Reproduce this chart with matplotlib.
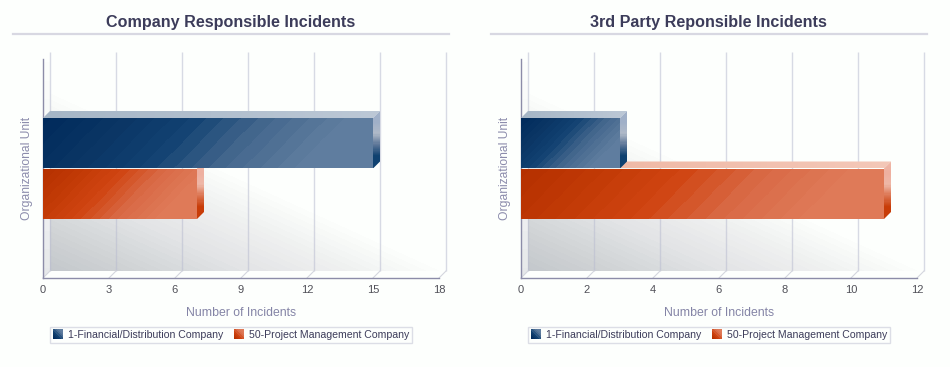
import numpy as np
import matplotlib
matplotlib.use('Agg')
import matplotlib.pyplot as plt
from matplotlib.patches import Polygon, Patch
from matplotlib.lines import Line2D
from matplotlib.image import BboxImage
from matplotlib.transforms import Bbox, TransformedBbox
from matplotlib.legend_handler import HandlerBase
from matplotlib.colors import to_rgb

plt.rcParams['font.family'] = ['Liberation Sans', 'DejaVu Sans']

companies = ['1-Financial/Distribution Company', '50-Project Management Company']
titles = ['Company Responsible Incidents', '3rd Party Reponsible Incidents']
company_incidents = [15, 7]
third_party_incidents = [3, 11]
company_ticks = [0, 3, 6, 9, 12, 15, 18]
third_party_ticks = [0, 2, 4, 6, 8, 10, 12]

W, H = 950, 367
BG = '#fdfffd'
DEPTH = 7

front = [['#002a5c', '#0a3564', '#124272', '#45688e', '#5f7d9f', '#5f7d9f'],
         ['#b53000', '#c23a06', '#d04512', '#d96a46', '#df7a58', '#df7a58']]
top_face = [['#a6b6c6', '#bcc8d6'], ['#eeb4a0', '#f4c8b8']]
side_face = [['#a0b0c8', '#a0b0c8', '#b0bac8', '#5c7698', '#0f4170', '#0f4170'],
             ['#f0b8a8', '#eeb0a0', '#eeb8a8', '#dc7450', '#c83c08', '#c83c08']]
wall = ['#c4c8cc', '#d2d5d7', '#e3e4e6', '#eff0f0', BG]


def ramp(t, stops):
    pos = np.linspace(0, 1, len(stops))
    rgb = np.array([to_rgb(s) for s in stops])
    return np.dstack([np.interp(t, pos, rgb[:, i]) for i in range(3)])


def diagonal(w, h, stops, steps=22):
    # lighter towards the lower right, with the visible banding of the original
    x, y = np.meshgrid(np.linspace(0, 1, w), np.linspace(0, 1, h))
    t = (x * w + (1 - y) * h) / (w + h)
    t = np.round(t * steps) / steps
    return ramp(t, stops)


def place(ax, img, extent, clip=None, z=2):
    im = ax.imshow(img, extent=extent, origin='lower', aspect='auto', zorder=z,
                   interpolation='nearest')
    im.set_clip_box(None)
    if clip is None:
        im.set_clip_on(False)
    else:
        p = Polygon(clip, closed=True, fill=False, edgecolor='none', zorder=0)
        ax.add_patch(p)
        p.set_clip_on(False)
        im.set_clip_path(p)
    return im


class GradientHandler(HandlerBase):
    def __init__(self, stops):
        super().__init__()
        self.stops = stops

    def create_artists(self, legend, orig, xd, yd, width, height, fontsize, trans):
        side = 7.2
        box = TransformedBbox(Bbox([[-xd, -yd - 0.9], [-xd + side, -yd - 0.9 + side]]), trans)
        im = BboxImage(box, interpolation='nearest')
        im.set_data(diagonal(10, 10, self.stops, steps=8))
        return [im]


def draw_chart(fig, left, title, values, ticks):
    xmax = ticks[-1]
    ax = fig.add_axes([left / W, 1 - 278 / H, 396 / W, 219 / H])
    ax.set_facecolor('none')
    dx = DEPTH * xmax / 396
    dy = DEPTH / 219
    ylo, yhi = -0.5, 0.5

    # back wall, fading along the diagonal
    x, y = np.meshgrid(np.linspace(0, 1, 396), np.linspace(0, 1, 212))
    t = np.clip(x + y / 0.853, 0, 1)
    t = np.round(t * 30) / 30
    place(ax, ramp(t, wall), [dx, xmax + dx, ylo + dy, yhi], z=1)

    # left wall
    g = np.linspace(0, 1, 219).reshape(-1, 1)
    place(ax, ramp(np.round(g * 12) / 12, ['#e6e8ea', '#f4f5f6', BG]), [0, dx, ylo, yhi + dy],
          clip=[(0, ylo), (dx, ylo + dy), (dx, yhi + dy), (0, yhi)], z=1)

    # grid on the wall and on the floor
    ax.vlines([v + dx for v in ticks], ylo + dy, yhi + dy, color='#b9bcd0', alpha=0.55, lw=1,
              zorder=1.5, clip_on=False)
    for v in ticks:
        ax.plot([v, v + dx], [ylo, ylo + dy], color='#d4d6de', lw=0.8, zorder=1.5, clip_on=False)

    # bars, blue above red and drawn over the red top face
    bar_h = 50.5 / 219
    pos = [bar_h / 2, -bar_h / 2]
    bars = ax.barh(pos, values, height=bar_h, color='none', zorder=3)
    for i, (b, v) in enumerate(zip(bars, values)):
        z = 4 - i
        y0, y1 = b.get_y(), b.get_y() + b.get_height()
        px = max(int(v * 396 / xmax), 2)
        tx, ty = np.meshgrid(np.linspace(0, 1, px + 7), np.linspace(0, 1, 7))
        place(ax, ramp(tx, top_face[i]), [0, v + dx, y1, y1 + dy],
              clip=[(0, y1), (v, y1), (v + dx, y1 + dy), (dx, y1 + dy)], z=z)
        sy = np.linspace(1, 0, 50).reshape(-1, 1)
        place(ax, ramp(sy, side_face[i]), [v, v + dx, y0, y1 + dy],
              clip=[(v, y0), (v + dx, y0 + dy), (v + dx, y1 + dy), (v, y1)], z=z)
        im = ax.imshow(diagonal(px, 50, front[i]), extent=[0, v, y0, y1], origin='lower',
                       aspect='auto', zorder=z + 0.1, interpolation='nearest')
        im.set_clip_path(b)

    ax.set_xlim(0, xmax)
    ax.set_ylim(ylo, yhi)
    ax.set_xticks(ticks)
    ax.set_yticks([])
    ax.tick_params(axis='x', length=0, pad=5, labelsize=8, labelcolor='#505058')
    for s in ['top', 'right']:
        ax.spines[s].set_visible(False)
    for s in ['left', 'bottom']:
        ax.spines[s].set_color('#8c8ca8')
        ax.spines[s].set_linewidth(1)
        ax.spines[s].set_zorder(2.5)
    ax.set_xlabel('Number of Incidents', fontsize=8.8, color='#8484a6', labelpad=9)
    ax.set_ylabel('Organizational Unit', fontsize=8.7, color='#8c8cac', labelpad=7)

    fig.text((left - 43 + 230.5) / W, 1 - 22 / H, title, ha='center', va='center',
             fontsize=11.6, fontweight='bold', color='#3c3c5a')
    fig.add_artist(Line2D([(left - 30) / W, (left + 406) / W], [1 - 33.5 / H] * 2,
                          color='#d8d8e2', lw=1.6))

    handles = [Patch(label=c) for c in companies]
    handler_map = {handles[0]: GradientHandler(front[0]), handles[1]: GradientHandler(front[1])}
    leg = ax.legend(handles=handles, handler_map=handler_map, ncol=2, loc='center',
                    bbox_to_anchor=((left - 43 + 231) / W, 1 - 335 / H),
                    bbox_transform=fig.transFigure, fontsize=7.6, frameon=True, fancybox=False,
                    edgecolor='#dcdee6', facecolor=BG, framealpha=1, borderpad=0.3,
                    handlelength=1.0, handletextpad=0.45, columnspacing=0.95, labelcolor='#3c3c5a',
                    borderaxespad=0)
    leg.get_frame().set_linewidth(1)


fig = plt.figure(figsize=(W / 100, H / 100), dpi=100, facecolor=BG)
draw_chart(fig, 43, titles[0], company_incidents, company_ticks)
draw_chart(fig, 521, titles[1], third_party_incidents, third_party_ticks)
fig.savefig('out.png', dpi=100, facecolor=BG)
